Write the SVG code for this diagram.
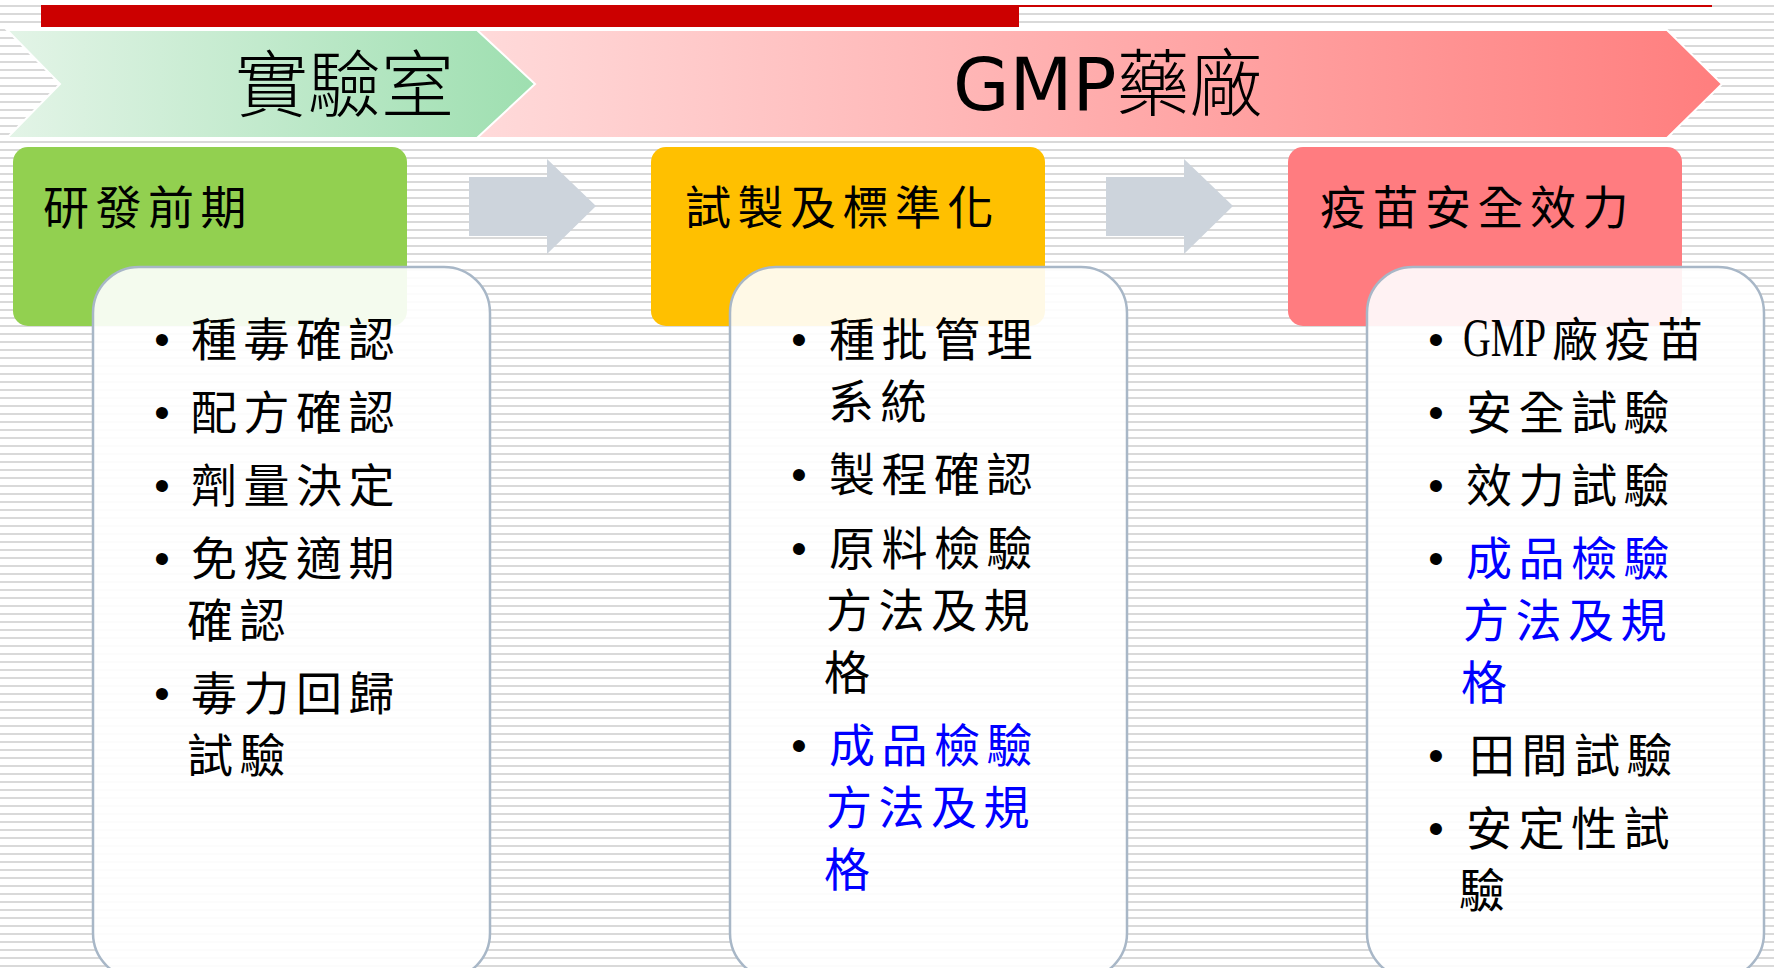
<svg xmlns="http://www.w3.org/2000/svg" width="1774" height="968" viewBox="0 0 1774 968">
  <defs>
    <pattern id="stripes" patternUnits="userSpaceOnUse" x="0" y="0" width="8" height="8">
      <rect x="0" y="0" width="8" height="8" fill="#ffffff"/>
      <rect x="0" y="5" width="8" height="2" fill="#d9d9d9"/>
    </pattern>
    <linearGradient id="gLab" gradientUnits="userSpaceOnUse" x1="7" y1="0" x2="535" y2="0">
      <stop offset="0" stop-color="#e3f4e7"/>
      <stop offset="1" stop-color="#9edfb0"/>
    </linearGradient>
    <linearGradient id="gGmp" gradientUnits="userSpaceOnUse" x1="477" y1="0" x2="1722" y2="0">
      <stop offset="0" stop-color="#ffdada"/>
      <stop offset="1" stop-color="#ff7e7e"/>
    </linearGradient>
    <style>
      .hdr { font-family: "DejaVu Sans", "Noto Sans CJK TC", sans-serif; font-size: 73px; fill: #000; }
      .thin { font-family: "Noto Sans CJK TC", sans-serif; font-weight: 300; }
      .lab { font-family: "Noto Sans CJK TC", sans-serif; font-size: 46px; letter-spacing: 6.5px; fill: #000; }
      .item { font-family: "Noto Sans CJK TC", sans-serif; font-size: 46px; letter-spacing: 6.5px; fill: #000; }
      .blue { fill: #0000ff; }
      .dot { font-family: "Liberation Sans", sans-serif; font-size: 44px; fill: #000; text-anchor: middle; }
      .lat { font-family: "Liberation Serif", serif; font-size: 54px; fill: #000; }
      .card { fill: #ffffff; fill-opacity: 0.9; stroke: #a8b7c7; stroke-width: 2.5; }
      .chev { stroke: #ffffff; stroke-width: 2; }
      .arrow { fill: #cdd4dc; }
    </style>
  </defs>

  <rect x="0" y="0" width="1774" height="968" fill="url(#stripes)"/>

  <g id="topbar">
    <rect x="41" y="5" width="978" height="22" fill="#cc0000"/>
    <rect x="1019" y="5" width="693" height="2" fill="#cc0000"/>
  </g>

  <g id="phase-gmp">
    <polygon class="chev" points="470,30 1667,30 1722,84 1667,138 470,138" fill="url(#gGmp)"/>
    <text class="hdr" x="953" y="110">GMP<tspan class="thin">藥廠</tspan></text>
  </g>
  <g id="phase-lab">
    <polygon class="chev" points="7,30 477,30 535,84 477,138 7,138 60,84" fill="url(#gLab)"/>
    <text class="hdr thin" x="235" y="111">實驗室</text>
  </g>

  <g id="connectors">
    <polygon class="arrow" points="469,177 547,177 547,159 596,206 547,254 547,236 469,236"/>
    <polygon class="arrow" points="1106,177 1184,177 1184,159 1233,206 1184,254 1184,236 1106,236"/>
  </g>

  <g id="stage1">
    <rect x="13" y="147" width="394" height="179" rx="15" fill="#92d050"/>
    <text class="lab" x="43" y="224">研發前期</text>
    <rect class="card" x="93" y="267" width="397" height="712" rx="46"/>
    <text class="dot" x="162" y="355">•</text>
    <text class="item" x="191" y="355.5">種毒確認</text>
    <text class="dot" x="162" y="428">•</text>
    <text class="item" x="191" y="428.5">配方確認</text>
    <text class="dot" x="162" y="501">•</text>
    <text class="item" x="191" y="501.5">劑量決定</text>
    <text class="dot" x="162" y="574">•</text>
    <text class="item" x="191" y="574.5">免疫適期</text>
    <text class="item" x="187" y="636.5">確認</text>
    <text class="dot" x="162" y="709">•</text>
    <text class="item" x="191" y="709.5">毒力回歸</text>
    <text class="item" x="187" y="771.5">試驗</text>
  </g>

  <g id="stage2">
    <rect x="651" y="147" width="394" height="179" rx="15" fill="#ffc000"/>
    <text class="lab" x="685" y="224">試製及標準化</text>
    <rect class="card" x="730" y="267" width="397" height="712" rx="46"/>
    <text class="dot" x="799" y="355">•</text>
    <text class="item" x="829" y="355.5">種批管理</text>
    <text class="item" x="828" y="417.5">系統</text>
    <text class="dot" x="799" y="490">•</text>
    <text class="item" x="829" y="490.5">製程確認</text>
    <text class="dot" x="799" y="564">•</text>
    <text class="item" x="829" y="564.5">原料檢驗</text>
    <text class="item" x="826" y="626.5">方法及規</text>
    <text class="item" x="824" y="688.5">格</text>
    <text class="dot blue" x="799" y="761">•</text>
    <text class="item blue" x="829" y="761.5">成品檢驗</text>
    <text class="item blue" x="826" y="823.5">方法及規</text>
    <text class="item blue" x="824" y="885.5">格</text>
  </g>

  <g id="stage3">
    <rect x="1288" y="147" width="394" height="179" rx="15" fill="#ff7c80"/>
    <text class="lab" x="1320" y="224">疫苗安全效力</text>
    <rect class="card" x="1367" y="267" width="397" height="712" rx="46"/>
    <text class="dot" x="1436" y="355">•</text>
    <text class="lat" transform="translate(1463 356) scale(0.71 1)">GMP</text>
    <text class="item" x="1552" y="355.5">廠疫苗</text>
    <text class="dot" x="1436" y="428">•</text>
    <text class="item" x="1466" y="428.5">安全試驗</text>
    <text class="dot" x="1436" y="501">•</text>
    <text class="item" x="1466" y="501.5">效力試驗</text>
    <text class="dot blue" x="1436" y="574">•</text>
    <text class="item blue" x="1466" y="574.5">成品檢驗</text>
    <text class="item blue" x="1463" y="636.5">方法及規</text>
    <text class="item blue" x="1461" y="698.5">格</text>
    <text class="dot" x="1436" y="771">•</text>
    <text class="item" x="1469" y="771.5">田間試驗</text>
    <text class="dot" x="1436" y="844">•</text>
    <text class="item" x="1466" y="844.5">安定性試</text>
    <text class="item" x="1459" y="906.5">驗</text>
  </g>
</svg>
